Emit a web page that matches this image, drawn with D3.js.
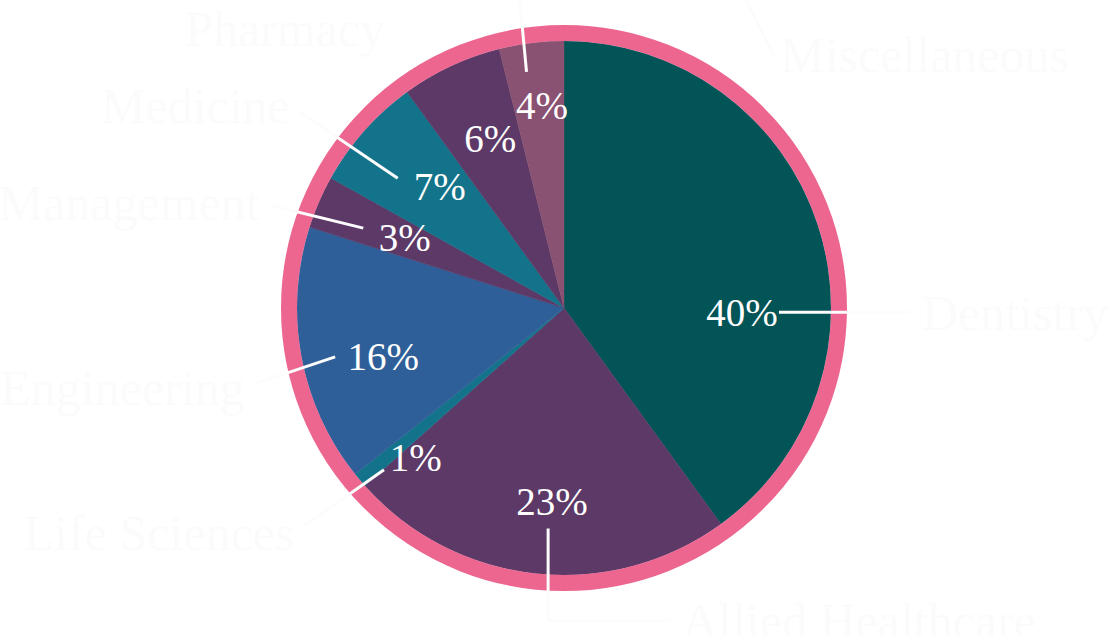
<!DOCTYPE html>
<html>
<head>
<meta charset="utf-8">
<script src="https://cdn.jsdelivr.net/npm/d3@7"></script>
<style>
  html, body { margin: 0; padding: 0; background: #ffffff; }
  svg { display: block; }
</style>
</head>
<body>
<svg id="chart" width="1112" height="635"></svg>
<script>
// ---- data ----
const categories = ["Dentistry", "Allied Healthcare", "Life Sciences", "Engineering",
                    "Management", "Medicine", "Pharmacy", "Miscellaneous"];
const shares = [40.0, 23.4, 0.9, 15.6, 3.2, 6.9, 6.1, 3.9];
const percentLabels = ["40%", "23%", "1%", "16%", "3%", "7%", "6%", "4%"];

// ---- styles ----
const sliceColors = ["#035457", "#5c3966", "#13738a", "#2e5f98",
                     "#5c3966", "#13738a", "#5c3966", "#8a5272"];
const ringColor = "#ec6690";
const W = 1112, H = 635;
const cx = 564, cy = 308;
const rPie = 267, rRing = 283;

// label layout relative to each slice's mid-angle (degrees offset, radius)
const layout = [
  { pct: [19.3, 178], start: [19.1, 215], label: [18.7, 358, "start"], conn: "straight" },
  { pct: [-2.6, 194], start: [-2.0, 221], label: [-26.8, 334, "start"], conn: "elbow" },
  { pct: [-5.0, 210], start: [-1.8, 242], label: [0.3, 351, "end"], conn: "straight" },
  { pct: [-4.5, 187], start: [-1.6, 234], label: [-3.5, 329, "end"], conn: "straight" },
  { pct: [0.4, 174], start: [-1.7, 216], label: [-4.3, 322, "end"], conn: "straight" },
  { pct: [2.9, 174], start: [-3.6, 211], label: [-5.1, 341, "end"], conn: "straight" },
  { pct: [1.5, 185], start: null, label: [-7.6, 332, "end"], conn: "none" },
  { pct: [0.8, 204], start: [-2.0, 239], label: [47.5, 333, "start"], conn: "over" }
];

const svg = d3.select("#chart");
const g = svg.append("g");

const pie = d3.pie().sort(null).value(d => d).startAngle(0).endAngle(2 * Math.PI);
const arcs = pie(shares);
const arc = d3.arc().innerRadius(0).outerRadius(rPie);

function polar(deg, r) {
  const a = deg * Math.PI / 180;
  return [cx + r * Math.sin(a), cy - r * Math.cos(a)];
}
const midDeg = d => ((d.startAngle + d.endAngle) / 2) * 180 / Math.PI;

// slices
g.append("g").attr("transform", `translate(${cx},${cy})`)
  .selectAll("path").data(arcs).join("path")
  .attr("d", arc)
  .attr("fill", (d, i) => sliceColors[i])
  .attr("stroke", (d, i) => sliceColors[i])
  .attr("stroke-width", 0.5);

// outer ring
g.append("circle")
  .attr("cx", cx).attr("cy", cy)
  .attr("r", (rPie + rRing) / 2)
  .attr("fill", "none")
  .attr("stroke", ringColor)
  .attr("stroke-width", rRing - rPie);

// connectors
const line = d3.line();
const connG = g.append("g");
arcs.forEach((d, i) => {
  const L = layout[i];
  if (L.conn === "none") return;
  const m = midDeg(d);
  const s = polar(m + L.start[0], L.start[1]);
  const lab = polar(m + L.label[0], L.label[1]);
  let pts;
  if (L.conn === "straight") {
    const dx = lab[0] - s[0], dy = lab[1] - s[1];
    const len = Math.hypot(dx, dy);
    const gap = 12;
    pts = [s, [lab[0] - dx / len * gap, lab[1] - dy / len * gap]];
  } else if (L.conn === "elbow") {
    pts = [s, [s[0], lab[1]], [lab[0] - 12, lab[1]]];
  } else if (L.conn === "over") {
    pts = [s, [s[0] - 7, -2], [lab[0] - 35, -2], [lab[0] - 7, lab[1]]];
  }
  connG.append("path")
    .attr("d", line(pts))
    .attr("fill", "none")
    .attr("stroke", "#fcfcfc")
    .attr("stroke-width", 3);
});

// percent labels
g.append("g").selectAll("text").data(arcs).join("text")
  .attr("x", (d, i) => polar(midDeg(d) + layout[i].pct[0], layout[i].pct[1])[0])
  .attr("y", (d, i) => polar(midDeg(d) + layout[i].pct[0], layout[i].pct[1])[1])
  .attr("dy", "0.35em")
  .attr("text-anchor", "middle")
  .attr("font-family", "'Liberation Serif', 'DejaVu Serif', serif")
  .attr("font-size", 39)
  .attr("fill", "#ffffff")
  .text((d, i) => percentLabels[i]);

// category labels
g.append("g").selectAll("text").data(arcs).join("text")
  .attr("x", (d, i) => polar(midDeg(d) + layout[i].label[0], layout[i].label[1])[0])
  .attr("y", (d, i) => polar(midDeg(d) + layout[i].label[0], layout[i].label[1])[1])
  .attr("dy", "0.35em")
  .attr("text-anchor", (d, i) => layout[i].label[2])
  .attr("font-family", "'Liberation Serif', 'DejaVu Serif', serif")
  .attr("font-size", 50)
  .attr("fill", "#fbfbfb")
  .text((d, i) => categories[i]);
</script>
</body>
</html>
